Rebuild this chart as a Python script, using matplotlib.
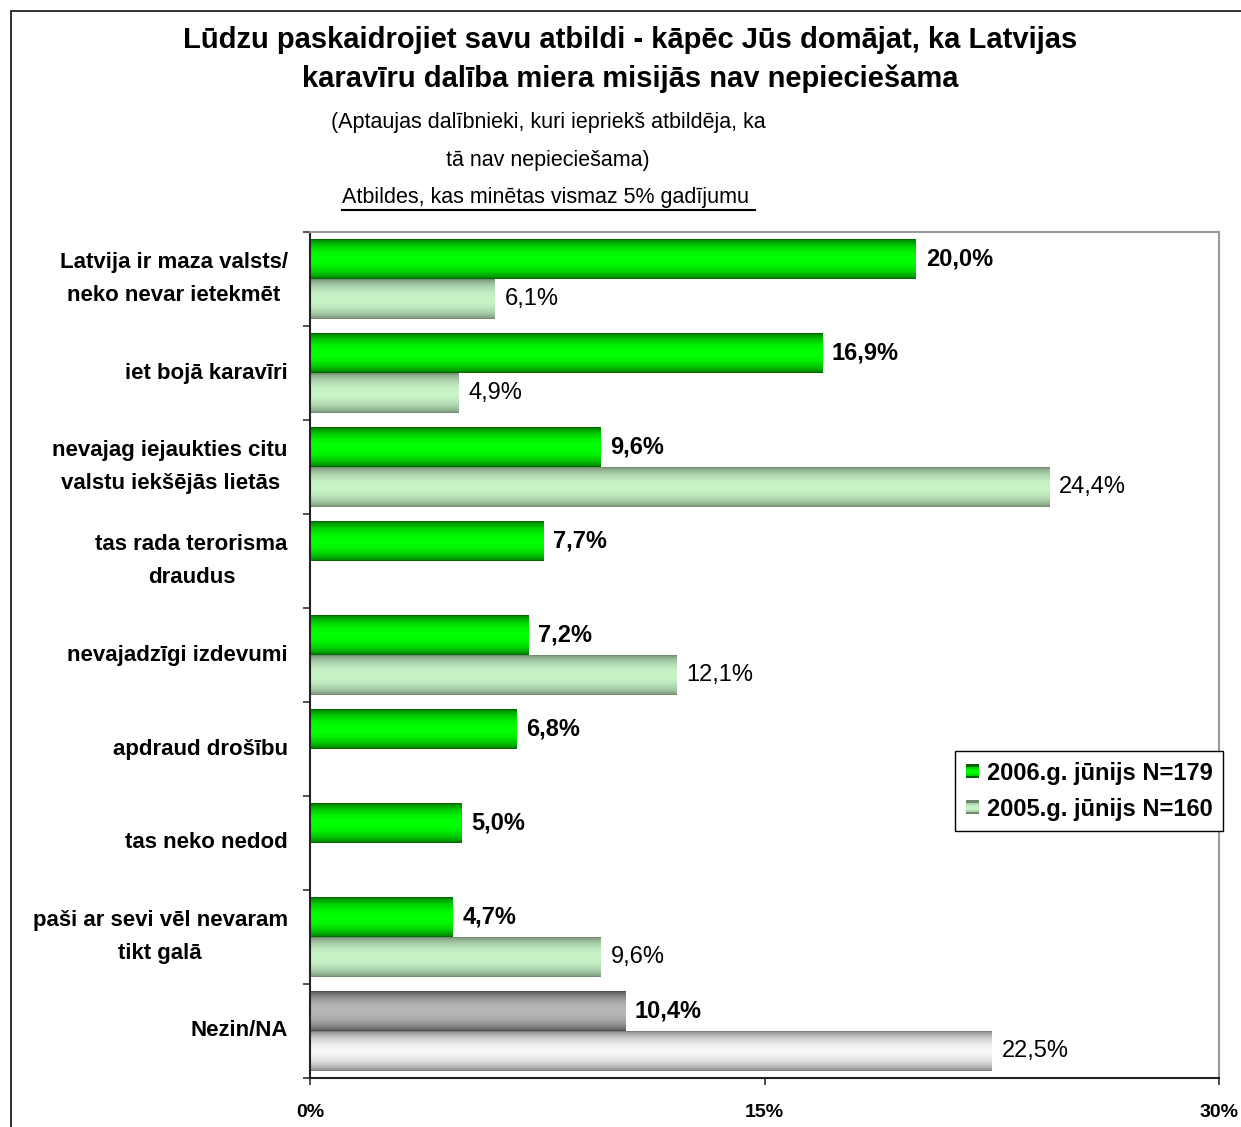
import numpy as np
import matplotlib
matplotlib.use("Agg")
import matplotlib.pyplot as plt
from matplotlib.patches import Rectangle, Patch
from matplotlib.legend_handler import HandlerBase
from matplotlib.colors import to_rgb
from matplotlib.lines import Line2D

plt.rcParams['font.family'] = ['Liberation Sans', 'DejaVu Sans']

# --- dati ---
categories = ["Latvija ir maza valsts/\nneko nevar ietekmēt",
              "iet bojā karavīri",
              "nevajag iejaukties citu\nvalstu iekšējās lietās",
              "tas rada terorisma\ndraudus",
              "nevajadzīgi izdevumi",
              "apdraud drošību",
              "tas neko nedod",
              "paši ar sevi vēl nevaram\ntikt galā",
              "Nezin/NA"]
jun2006 = [20.0, 16.9, 9.6, 7.7, 7.2, 6.8, 5.0, 4.7, 10.4]
jun2005 = [6.1, 4.9, 24.4, None, 12.1, None, None, 9.6, 22.5]
series_names = ["2006.g. jūnijs N=179", "2005.g. jūnijs N=160"]
xticks = [0, 15, 30]
xtick_labels = ["0%", "15%", "30%"]

title_lines = ["Lūdzu paskaidrojiet savu atbildi - kāpēc Jūs domājat, ka Latvijas",
               "karavīru dalība miera misijās nav nepieciešama"]
sub_lines = ["(Aptaujas dalībnieki, kuri iepriekš atbildēja, ka",
             "tā nav nepieciešama)"]
sub_underlined = "Atbildes, kas minētas vismaz 5% gadījumu "

# krāsas: (mala, vidus)
c_new = ("#006400", "#00ff00")
c_old = ("#6e876e", "#c8f5c8")
c_new_na = ("#4a4a4a", "#b8b8b8")
c_old_na = ("#787878", "#f6f6f6")


def grad_img(edge, mid, n=64):
    t = np.linspace(0, 1, n)
    w = np.sin(np.pi * t) ** 0.6
    e, m = np.array(to_rgb(edge)), np.array(to_rgb(mid))
    return (e[None, :] * (1 - w[:, None]) + m[None, :] * w[:, None])[:, None, :]


class GradHandler(HandlerBase):
    def __init__(self, colors):
        super().__init__()
        self.colors = colors

    def create_artists(self, legend, orig_handle, xdescent, ydescent, width, height, fontsize, trans):
        img = grad_img(*self.colors, n=6)[:, 0, :]
        n = len(img)
        arts = []
        for k in range(n):
            arts.append(Rectangle((-xdescent, -ydescent + height - (k + 1) * height / n), width, height / n,
                                  facecolor=img[k], edgecolor='none', transform=trans))
        return arts


W, H = 1241, 1127
fig = plt.figure(figsize=(W / 100, H / 100), dpi=100)
ax = fig.add_axes([310 / W, 1 - 1078 / H, (1219 - 310) / W, (1078 - 232) / H])

y = np.arange(len(categories))
bh = 0.425
v_new = np.array(jun2006, dtype=float)
v_old = np.array([np.nan if v is None else v for v in jun2005], dtype=float)

bars_new = ax.barh(y - bh / 2, np.nan_to_num(v_new), height=bh, color='none', edgecolor='none')
bars_old = ax.barh(y + bh / 2, np.nan_to_num(v_old), height=bh, color='none', edgecolor='none')

na_idx = len(categories) - 1
for i, (bn, bo) in enumerate(zip(bars_new, bars_old)):
    for bar, val, cols, bold in ((bn, v_new[i], c_new_na if i == na_idx else c_new, True),
                                 (bo, v_old[i], c_old_na if i == na_idx else c_old, False)):
        if np.isnan(val):
            continue
        x0, y0, w, h = bar.get_x(), bar.get_y(), bar.get_width(), bar.get_height()
        im = ax.imshow(grad_img(*cols), extent=[x0, x0 + w, y0 + h, y0], aspect='auto',
                       interpolation='bilinear', zorder=2)
        im.set_clip_path(bar)
        ax.annotate(f"{val:.1f}%".replace('.', ','), (val, y0 + h / 2), xytext=(7, 0),
                    textcoords='offset points', va='center', ha='left', fontsize=17,
                    fontweight='bold' if bold else 'normal', color='black')

ax.set_xlim(0, 30)
ax.set_ylim(len(categories) - 0.5, -0.5)

ax.set_xticks(xticks)
ax.set_xticklabels(xtick_labels, fontsize=14, fontweight='bold')
ax.tick_params(axis='x', direction='out', length=5, width=1.2, pad=14, color='#333333')

# kategoriju nosaukumi
ax.set_yticks([])
for i, cat in enumerate(categories):
    ax.annotate(cat, xy=(0, i), xycoords=('axes fraction', 'data'), xytext=(-16, 0),
                textcoords='offset points', ha='right', va='center', multialignment='center',
                fontsize=16, fontweight='bold', linespacing=1.8)
ax.set_yticks(np.arange(-0.5, len(categories), 1), minor=True)
ax.tick_params(axis='y', which='minor', direction='out', length=5, width=1.2, color='#333333')

for s in ('left', 'bottom'):
    ax.spines[s].set_color('#222222')
    ax.spines[s].set_linewidth(1.5)
for s in ('top', 'right'):
    ax.spines[s].set_color('#999999')
    ax.spines[s].set_linewidth(1.5)

h1 = Patch(label=series_names[0])
h2 = Patch(label=series_names[1])
leg = ax.legend(handles=[h1, h2], handler_map={h1: GradHandler(c_new), h2: GradHandler(c_old)},
                loc='upper left', bbox_to_anchor=((955 - 310) / 909, (1078 - 751) / 846),
                borderaxespad=0, fancybox=False, framealpha=1, edgecolor='black',
                prop={'size': 17, 'weight': 'bold'}, handlelength=0.55, handleheight=0.55,
                handletextpad=0.35, labelspacing=0.55, borderpad=0.45)
leg.get_frame().set_linewidth(1.0)

# virsraksti
fx = 630 / W
fig.text(fx, 1 - 48 / H, title_lines[0], ha='center', va='baseline', fontsize=21, fontweight='bold')
fig.text(fx, 1 - 87 / H, title_lines[1], ha='center', va='baseline', fontsize=21, fontweight='bold')
sx = 548 / W
fig.text(sx, 1 - 128 / H, sub_lines[0], ha='center', va='baseline', fontsize=15.5)
fig.text(sx, 1 - 166 / H, sub_lines[1], ha='center', va='baseline', fontsize=15.5)
ut = fig.text(sx, 1 - 203 / H, sub_underlined, ha='center', va='baseline', fontsize=15.5)

fig.canvas.draw()
bb = ut.get_window_extent()
fig.add_artist(Line2D([bb.x0 / W, bb.x1 / W], [1 - 210 / H, 1 - 210 / H], color='black', lw=1.5,
                      transform=fig.transFigure))

# ārējais rāmis
fig.add_artist(Rectangle((11 / W, -0.1), 1.2, 1 - 11 / H + 0.1, transform=fig.transFigure,
                         fill=False, edgecolor='#222222', lw=1.3, clip_on=False))

fig.savefig("out.png", dpi=100)
